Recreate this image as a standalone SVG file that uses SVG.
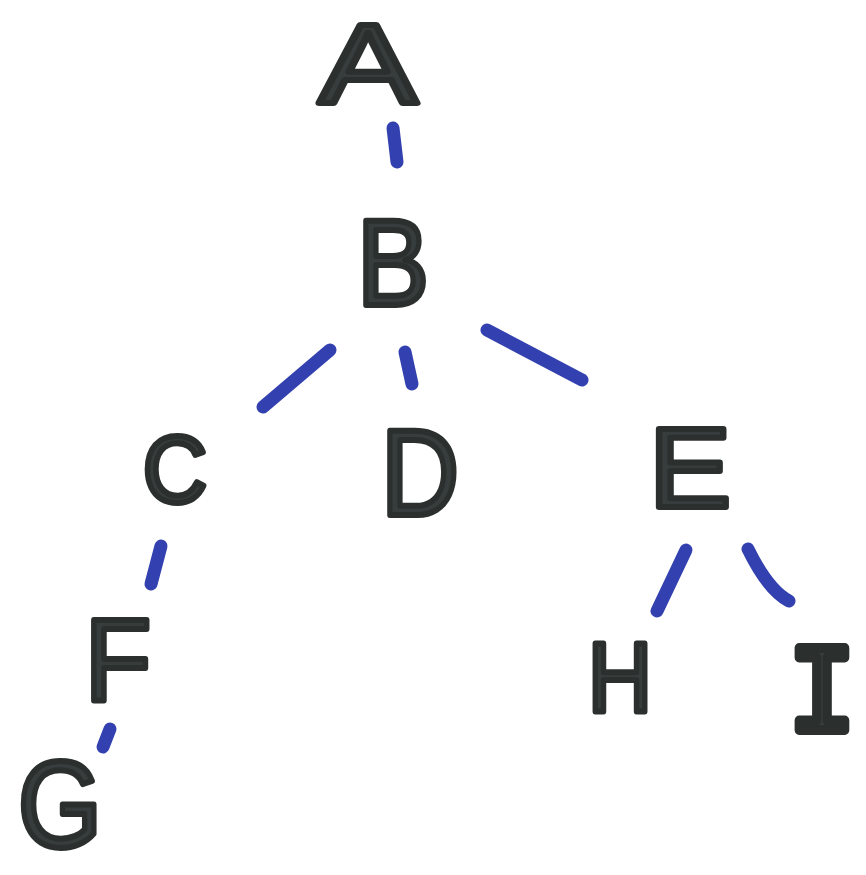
<svg xmlns="http://www.w3.org/2000/svg" width="866" height="875" viewBox="0 0 866 875">
<style>
.n text{font-family:"Liberation Sans",Arial,sans-serif;font-weight:normal;fill:#363d3c;stroke:#2b302f;stroke-width:6;stroke-linejoin:round;stroke-linecap:round;text-anchor:middle}
.n text.m{font-family:"Liberation Mono","Courier New",monospace;font-weight:normal;stroke-width:10}
.e path{fill:none;stroke:#3341b0;stroke-width:13;stroke-linecap:round}
</style>
<rect width="866" height="875" fill="#ffffff"/>
<g id="connectors" class="e">
<path d="M393,128 L397,162"/>
<path d="M330,350 L263,407"/>
<path d="M405,352 L412,384"/>
<path d="M487,330 L582,380"/>
<path d="M161,546 L151,584"/>
<path d="M110,729 L103,747"/>
<path d="M686,550 L657,611"/>
<path d="M748,549 Q768,590 789,601"/>
</g>
<g id="node-A" class="n"><text x="368" y="103" font-size="114" textLength="98" lengthAdjust="spacingAndGlyphs">A</text></g>
<g id="node-B" class="n"><text x="393" y="305" font-size="122" textLength="72" lengthAdjust="spacingAndGlyphs">B</text></g>
<g id="node-C" class="n"><text x="175" y="502" font-size="94" textLength="64" lengthAdjust="spacingAndGlyphs">C</text></g>
<g id="node-D" class="n"><text x="420" y="515" font-size="122" textLength="78" lengthAdjust="spacingAndGlyphs">D</text></g>
<g id="node-E" class="n"><text x="690" y="507" font-size="114" textLength="82" lengthAdjust="spacingAndGlyphs">E</text></g>
<g id="node-F" class="n"><text x="118" y="701" font-size="116" textLength="66" lengthAdjust="spacingAndGlyphs">F</text></g>
<g id="node-G" class="n"><text x="60" y="847" font-size="122" textLength="84" lengthAdjust="spacingAndGlyphs">G</text></g>
<g id="node-H" class="n"><text x="620" y="711" font-size="98" textLength="64" lengthAdjust="spacingAndGlyphs">H</text></g>
<g id="node-I" class="n"><text class="m" x="822" y="730" font-size="124" textLength="68" lengthAdjust="spacingAndGlyphs">I</text></g>
</svg>
